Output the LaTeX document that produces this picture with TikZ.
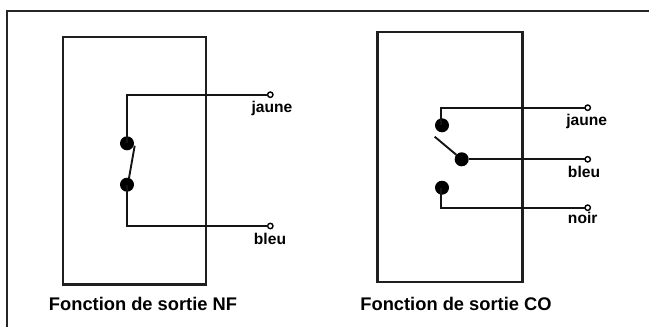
\documentclass[tikz,border=0pt]{standalone}
\usepackage{fontspec}
\setmainfont{Liberation Sans}
\tikzset{
  x=1pt,y=-1pt,
  frameline/.style={draw=black!85,line width=1.7pt},
  box/.style={draw=black!88,line width=2.4pt,outer sep=0pt,inner sep=0pt,anchor=north west},
  wire/.style={draw=black!92,line width=2.2pt},
  dotn/.style={circle,fill=black,inner sep=0pt,outer sep=0pt,minimum size=14pt},
  term/.style={circle,draw=black,fill=white,line width=1.4pt,inner sep=0pt,outer sep=0pt,minimum size=5.4pt},
  lab/.style={font=\bfseries\fontsize{15.6}{18}\selectfont,inner sep=0pt,anchor=base},
  captext/.style={font=\bfseries\fontsize{18.3}{21}\selectfont,inner sep=0pt,anchor=base}
}
\begin{document}
\begin{tikzpicture}
\useasboundingbox (0,0) rectangle (649,327);
\fill[white] (0,0) rectangle (649,327);
\coordinate (fa) at (7.3,327);
\coordinate (fb) at (7.3,10.7);
\coordinate (fc) at (649,10.7);
\draw[frameline] (fa) -- (fb) -- (fc);
% NF
\node[box,minimum width=143.3pt,minimum height=247.6pt] (b1) at (62.7,36.7) {};
\node[dotn] (a1) at (127,143.3) {};
\node[dotn] (a2) at (127,184.7) {};
\node[term] (t1) at (270.3,94.7) {};
\node[term] (t2) at (270.3,226) {};
\coordinate (c1) at (126.7,94.7);
\coordinate (c2) at (126.7,226);
\coordinate (sw) at (134.7,145.7);
\coordinate (sw1) at (129,178);
\draw[wire] (c1 |- a1) -- (c1) -- (t1);
\draw[wire] (c2 |- a2) -- (c2) -- (t2);
\draw[wire,line width=1.9pt] (sw) -- (sw1);
\node[lab] (l1) at (272,112) {jaune};
\node[lab] (l2) at (270,244) {bleu};
\node[captext] (k1) at (143,310) {Fonction de sortie NF};
% CO
\node[box,minimum width=145pt,minimum height=250pt] (b2) at (377.3,31.7) {};
\node[dotn] (d1) at (442,125.3) {};
\node[dotn] (d2) at (461.7,159.3) {};
\node[dotn] (d3) at (442,187.7) {};
\node[term] (t3) at (587.7,107.7) {};
\node[term] (t4) at (587.7,159.3) {};
\node[term] (t5) at (587.7,207.7) {};
\coordinate (c3) at (441.3,107.7);
\coordinate (c5) at (441.3,207.7);
\coordinate (sw2) at (434.7,136.7);
\draw[wire] (c3 |- d1) -- (c3) -- (t3);
\draw[wire] (d2) -- (t4);
\draw[wire] (c5 |- d3) -- (c5) -- (t5);
\draw[wire,line width=1.9pt] (sw2) -- (d2);
\node[lab] (l3) at (586.7,125) {jaune};
\node[lab] (l4) at (584,177) {bleu};
\node[lab] (l5) at (582.7,223) {noir};
\node[captext] (k2) at (456,310) {Fonction de sortie CO};
\end{tikzpicture}
\end{document}
